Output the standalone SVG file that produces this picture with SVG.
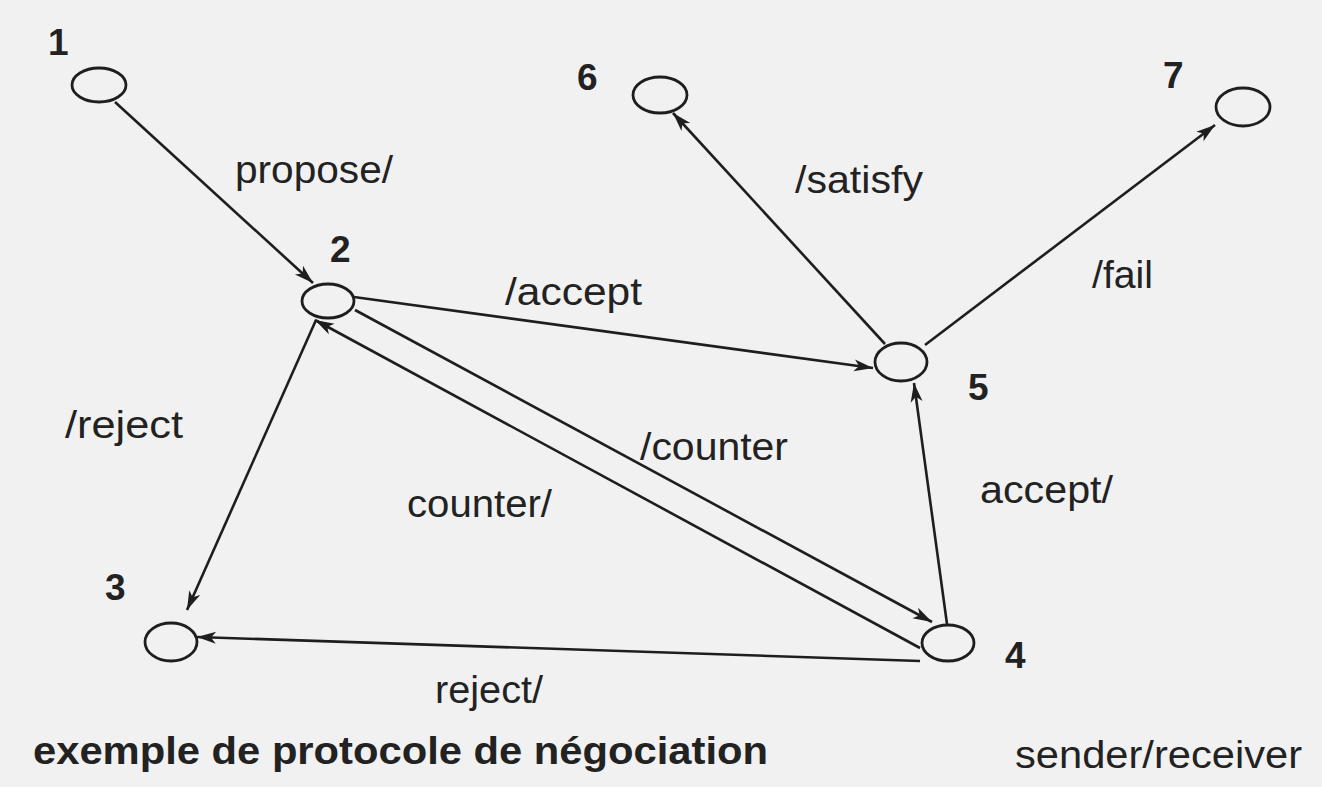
<svg xmlns="http://www.w3.org/2000/svg" width="1322" height="787" viewBox="0 0 1322 787">
<style>
.bg{fill:#f1f1f1}
.st{fill:none;stroke:#1e1e1e;stroke-width:2.8}
.ed{fill:none;stroke:#1e1e1e;stroke-width:2.6}
.num{font-family:"Liberation Sans",Arial,sans-serif;font-weight:bold;font-size:37px;fill:#222}
.lbl{font-family:"Liberation Sans",Arial,sans-serif;font-size:38px;fill:#222}
.ttl{font-family:"Liberation Sans",Arial,sans-serif;font-weight:bold;font-size:39px;fill:#222}
</style>
<defs>
<marker id="ah" viewBox="-20 -7 22 14" refX="0" refY="0" markerWidth="22" markerHeight="14" markerUnits="userSpaceOnUse" orient="auto">
<path d="M0,0 L-19,-6 L-14,0 L-19,6 Z" fill="#1e1e1e"/>
</marker>
</defs>
<rect class="bg" x="0" y="0" width="1322" height="787"/>
<g id="connectors">
<line class="ed" x1="115" y1="102" x2="313" y2="283" marker-end="url(#ah)"/>
<line class="ed" x1="354" y1="297" x2="873" y2="368" marker-end="url(#ah)"/>
<line class="ed" x1="355" y1="310" x2="932" y2="622" marker-end="url(#ah)"/>
<line class="ed" x1="920" y1="648" x2="315" y2="320" marker-end="url(#ah)"/>
<line class="ed" x1="316" y1="320" x2="187" y2="610" marker-end="url(#ah)"/>
<line class="ed" x1="920" y1="661" x2="197" y2="637" marker-end="url(#ah)"/>
<line class="ed" x1="947" y1="624" x2="914" y2="383" marker-end="url(#ah)"/>
<line class="ed" x1="885" y1="344" x2="673" y2="113" marker-end="url(#ah)"/>
<line class="ed" x1="925" y1="345" x2="1215" y2="125" marker-end="url(#ah)"/>
<text class="lbl" x="235" y="183" textLength="158" lengthAdjust="spacingAndGlyphs">propose/</text>
<text class="lbl" x="795" y="193" textLength="128" lengthAdjust="spacingAndGlyphs">/satisfy</text>
<text class="lbl" x="1092" y="288" textLength="61" lengthAdjust="spacingAndGlyphs">/fail</text>
<text class="lbl" x="505" y="305" textLength="137" lengthAdjust="spacingAndGlyphs">/accept</text>
<text class="lbl" x="65" y="438" textLength="118" lengthAdjust="spacingAndGlyphs">/reject</text>
<text class="lbl" x="640" y="460" textLength="148" lengthAdjust="spacingAndGlyphs">/counter</text>
<text class="lbl" x="407" y="517" textLength="145" lengthAdjust="spacingAndGlyphs">counter/</text>
<text class="lbl" x="980" y="503" textLength="133" lengthAdjust="spacingAndGlyphs">accept/</text>
<text class="lbl" x="435" y="703" textLength="108" lengthAdjust="spacingAndGlyphs">reject/</text>
</g>
<g id="node1"><ellipse class="st" cx="99" cy="85" rx="27" ry="17"/><text class="num" x="48" y="55">1</text></g>
<g id="node2"><ellipse class="st" cx="328" cy="301" rx="26" ry="17"/><text class="num" x="330" y="262">2</text></g>
<g id="node3"><ellipse class="st" cx="171" cy="642" rx="26" ry="19"/><text class="num" x="105" y="600">3</text></g>
<g id="node4"><ellipse class="st" cx="948" cy="643" rx="26" ry="18"/><text class="num" x="1005" y="668">4</text></g>
<g id="node5"><ellipse class="st" cx="901" cy="362" rx="26" ry="19"/><text class="num" x="968" y="400">5</text></g>
<g id="node6"><ellipse class="st" cx="660" cy="95" rx="27" ry="18"/><text class="num" x="577" y="90">6</text></g>
<g id="node7"><ellipse class="st" cx="1243" cy="107" rx="27" ry="19"/><text class="num" x="1163" y="88">7</text></g>
<g id="captions">
<text class="ttl" x="33" y="764" textLength="735" lengthAdjust="spacingAndGlyphs">exemple de protocole de négociation</text>
<text class="lbl" x="1015" y="768" textLength="287" lengthAdjust="spacingAndGlyphs">sender/receiver</text>
</g>
</svg>
